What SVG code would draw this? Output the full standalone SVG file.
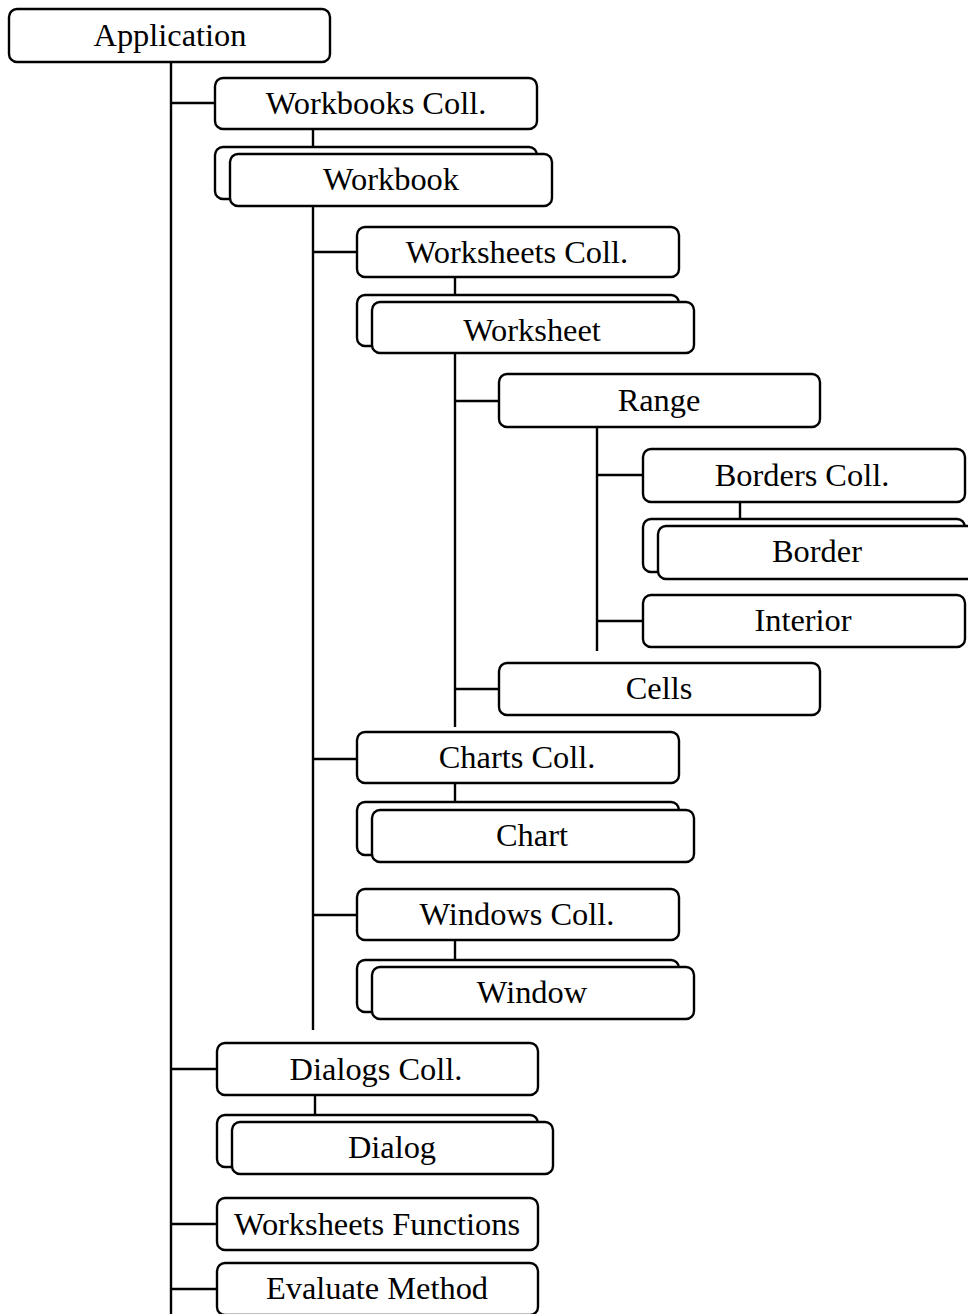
<svg xmlns="http://www.w3.org/2000/svg" width="968" height="1314" viewBox="0 0 968 1314">
  <style>
    .box { fill: #ffffff; stroke: #000000; stroke-width: 2.4; }
    .wire { fill: none; stroke: #000000; stroke-width: 2.4; }
    text { font-family: "Liberation Serif", "Times New Roman", serif; font-size: 32.4px; fill: #000000; text-anchor: middle; }
  </style>
  <rect width="968" height="1314" fill="#ffffff"/>

  <!-- tree connectors -->
  <g id="connectors">
    <!-- Application trunk -->
    <path class="wire" d="M171 62 V1314 M171 103 H215 M171 1069 H217 M171 1224 H217 M171 1289 H217"/>
    <!-- Workbooks -->
    <path class="wire" d="M313 129 V147 M313 206 V1030 M313 252 H357 M313 759 H357 M313 915 H357"/>
    <!-- Worksheets -->
    <path class="wire" d="M455 277 V295 M455 353 V727 M455 401 H499 M455 689 H499"/>
    <!-- Range -->
    <path class="wire" d="M597 427 V651 M597 475 H643 M597 621 H643"/>
    <path class="wire" d="M740 502 V519"/>
    <!-- Charts / Windows / Dialogs -->
    <path class="wire" d="M455 783 V802 M455 940 V960 M315 1095 V1115"/>
  </g>

  <g id="application">
    <rect class="box" x="9" y="9" width="321" height="53" rx="8"/>
    <text x="170" y="46">Application</text>
  </g>

  <g id="workbooks-coll">
    <rect class="box" x="215" y="78" width="322" height="51" rx="8"/>
    <text x="376" y="114">Workbooks Coll.</text>
  </g>

  <g id="workbook">
    <rect class="box" x="215" y="147" width="322" height="52" rx="8"/>
    <rect class="box" x="230" y="154" width="322" height="52" rx="8"/>
    <text x="391" y="190">Workbook</text>
  </g>

  <g id="worksheets-coll">
    <rect class="box" x="357" y="227" width="322" height="50" rx="8"/>
    <text x="517" y="263">Worksheets Coll.</text>
  </g>

  <g id="worksheet">
    <rect class="box" x="357" y="295" width="322" height="51" rx="8"/>
    <rect class="box" x="372" y="302" width="322" height="51" rx="8"/>
    <text x="532" y="341">Worksheet</text>
  </g>

  <g id="range">
    <rect class="box" x="499" y="374" width="321" height="53" rx="8"/>
    <text x="659" y="411">Range</text>
  </g>

  <g id="borders-coll">
    <rect class="box" x="643" y="449" width="322" height="53" rx="8"/>
    <text x="802" y="486">Borders Coll.</text>
  </g>

  <g id="border">
    <rect class="box" x="643" y="519" width="322" height="53" rx="8"/>
    <rect class="box" x="658" y="526" width="322" height="53" rx="8"/>
    <text x="817" y="562">Border</text>
  </g>

  <g id="interior">
    <rect class="box" x="643" y="595" width="322" height="52" rx="8"/>
    <text x="803" y="631">Interior</text>
  </g>

  <g id="cells">
    <rect class="box" x="499" y="663" width="321" height="52" rx="8"/>
    <text x="659" y="699">Cells</text>
  </g>

  <g id="charts-coll">
    <rect class="box" x="357" y="732" width="322" height="51" rx="8"/>
    <text x="517" y="768">Charts Coll.</text>
  </g>

  <g id="chart">
    <rect class="box" x="357" y="802" width="322" height="53" rx="8"/>
    <rect class="box" x="372" y="810" width="322" height="52" rx="8"/>
    <text x="532" y="846">Chart</text>
  </g>

  <g id="windows-coll">
    <rect class="box" x="357" y="889" width="322" height="51" rx="8"/>
    <text x="517" y="925">Windows Coll.</text>
  </g>

  <g id="window">
    <rect class="box" x="357" y="960" width="322" height="52" rx="8"/>
    <rect class="box" x="372" y="967" width="322" height="52" rx="8"/>
    <text x="532" y="1003">Window</text>
  </g>

  <g id="dialogs-coll">
    <rect class="box" x="217" y="1043" width="321" height="52" rx="8"/>
    <text x="376" y="1080">Dialogs Coll.</text>
  </g>

  <g id="dialog">
    <rect class="box" x="217" y="1115" width="321" height="52" rx="8"/>
    <rect class="box" x="232" y="1122" width="321" height="52" rx="8"/>
    <text x="392" y="1158">Dialog</text>
  </g>

  <g id="worksheets-functions">
    <rect class="box" x="217" y="1198" width="321" height="52" rx="8"/>
    <text x="377" y="1235">Worksheets Functions</text>
  </g>

  <g id="evaluate-method">
    <rect class="box" x="217" y="1263" width="321" height="52" rx="8"/>
    <text x="377" y="1299">Evaluate Method</text>
  </g>
</svg>
